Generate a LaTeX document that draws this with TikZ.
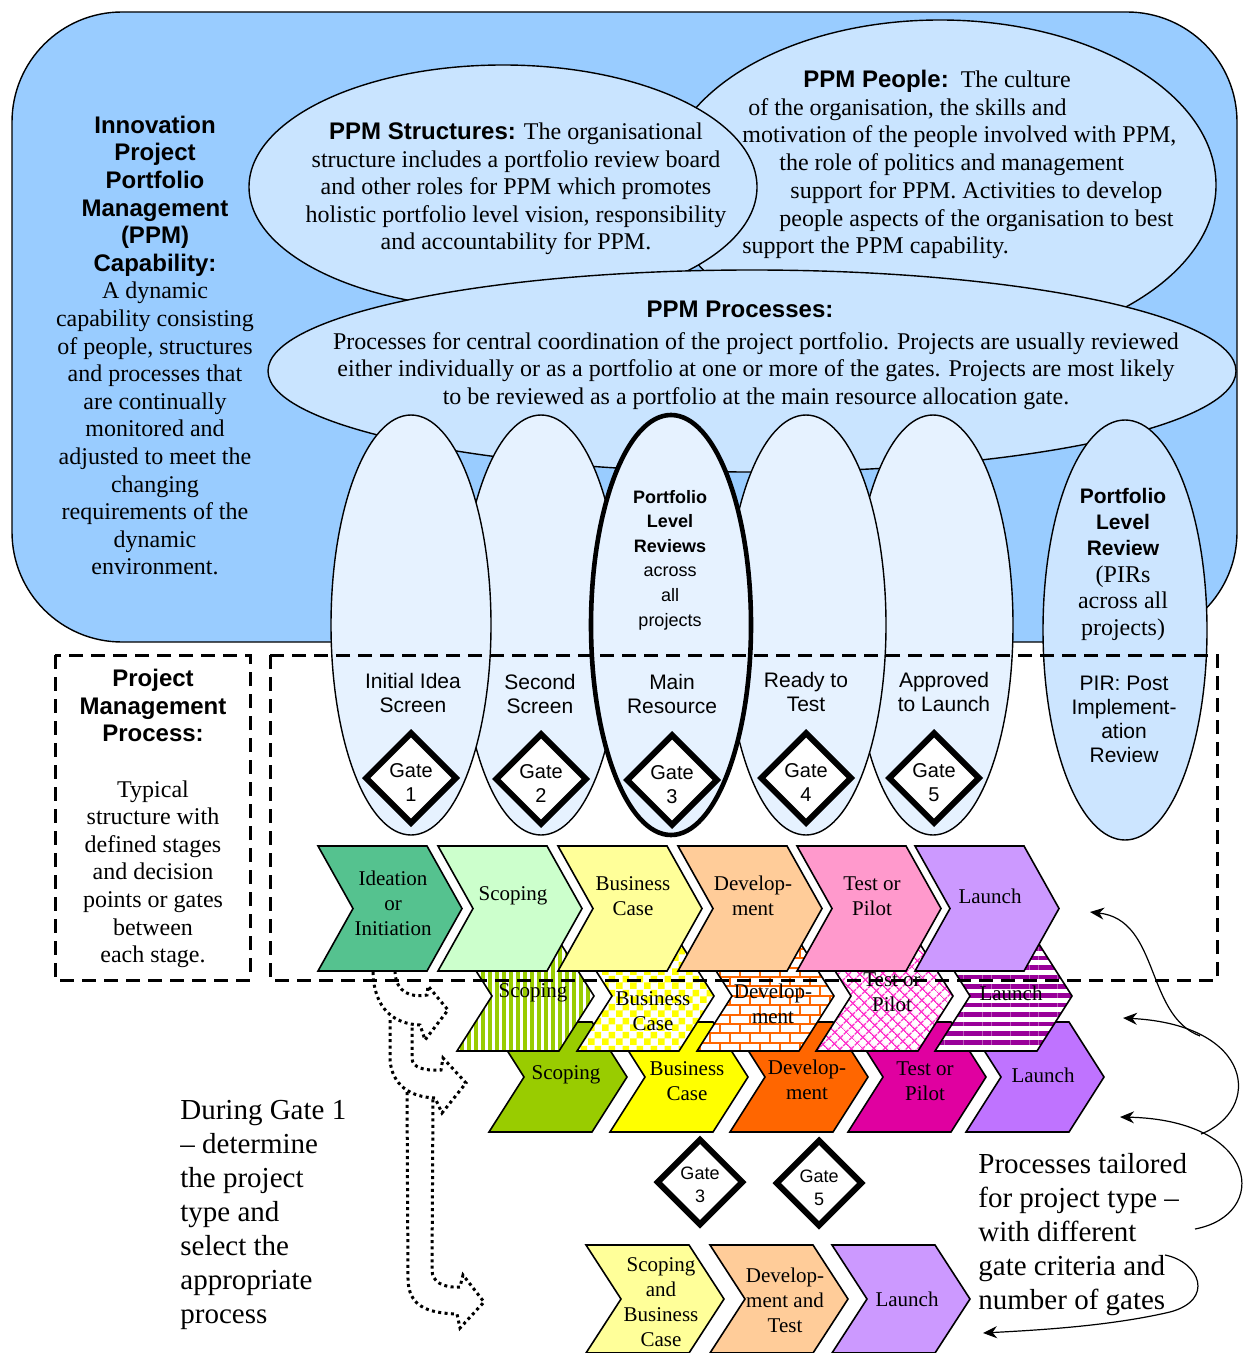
\documentclass[tikz,border=0pt]{standalone}
\usepackage{fontspec}
\setmainfont{Liberation Serif}
\setsansfont{Liberation Sans}
\usetikzlibrary{shapes.geometric,arrows.meta,patterns,patterns.meta}

\definecolor{capblue}{HTML}{99CCFF}
\definecolor{ellblue}{HTML}{C9E4FF}
\definecolor{gateblue}{HTML}{E6F2FF}
\definecolor{pirblue}{HTML}{CCE5FF}
\definecolor{ideagreen}{HTML}{55C28F}
\definecolor{scopelite}{HTML}{CCFFCC}
\definecolor{buslite}{HTML}{FFFF99}
\definecolor{devlite}{HTML}{FFCC99}
\definecolor{testlite}{HTML}{FF99CC}
\definecolor{launchlite}{HTML}{CC99FF}
\definecolor{scopebright}{HTML}{99CC00}
\definecolor{busbright}{HTML}{FFFF00}
\definecolor{devbright}{HTML}{FF6600}
\definecolor{testbright}{HTML}{E000A0}
\definecolor{launchbright}{HTML}{BF73FF}
\definecolor{stripepurple}{HTML}{990099}
\definecolor{weavepink}{HTML}{FF33CC}

% checks and bricks a bit larger than the stock ones
\pgfdeclarepatternformonly{bigchecks}{\pgfpointorigin}{\pgfqpoint{7pt}{7pt}}{\pgfqpoint{7pt}{7pt}}{%
  \pgfpathrectangle{\pgfpointorigin}{\pgfqpoint{3.5pt}{3.5pt}}%
  \pgfpathrectangle{\pgfqpoint{3.5pt}{3.5pt}}{\pgfqpoint{3.5pt}{3.5pt}}%
  \pgfusepath{fill}}
\pgfdeclarepatternformonly{wallbricks}{\pgfqpoint{-0.5pt}{-0.5pt}}{\pgfqpoint{10.5pt}{9.9pt}}{\pgfqpoint{10pt}{9.4pt}}{%
  \pgfsetlinewidth{1pt}%
  \pgfpathmoveto{\pgfqpoint{0pt}{0pt}}\pgfpathlineto{\pgfqpoint{10pt}{0pt}}%
  \pgfpathmoveto{\pgfqpoint{0pt}{4.7pt}}\pgfpathlineto{\pgfqpoint{10pt}{4.7pt}}%
  \pgfpathmoveto{\pgfqpoint{0pt}{0pt}}\pgfpathlineto{\pgfqpoint{0pt}{4.7pt}}%
  \pgfpathmoveto{\pgfqpoint{5pt}{4.7pt}}\pgfpathlineto{\pgfqpoint{5pt}{9.4pt}}%
  \pgfusepath{stroke}}

% left x, centre y, width, half height, options
\newcommand{\chevron}[5]{%
  \path[#5] (#1,{#2-#4}) -- ({#1+#3-35},{#2-#4}) -- ({#1+#3},#2) -- ({#1+#3-35},{#2+#4}) -- (#1,{#2+#4}) -- ({#1+35},#2) -- cycle;}
\newcommand{\sfhead}[1]{{\sffamily\bfseries #1}}
\newcommand{\sfsmall}[1]{{\sffamily\bfseries\fontsize{10.5}{13.2}\selectfont #1}}

\begin{document}
\begin{tikzpicture}[x=0.5pt, y=-0.5pt,
    bodytxt/.style={align=center, inner sep=0pt, font=\fontsize{12}{13.8}\selectfont},
    sanstxt/.style={align=center, inner sep=0pt, font=\sffamily\fontsize{10.5}{12}\selectfont},
    chevtxt/.style={align=center, inner sep=0pt, font=\fontsize{10.5}{12.5}\selectfont},
    bigtxt/.style={align=left, inner sep=0pt, anchor=west, font=\fontsize{14.5}{17}\selectfont},
    bigell/.style={ellipse, draw, line width=0.7pt, fill=ellblue, inner sep=0pt},
    gateell/.style={ellipse, draw, line width=0.7pt, fill=gateblue, inner sep=0pt, minimum width=80pt, minimum height=210pt},
    gatebox/.style={diamond, draw, line width=3pt, fill=white, inner sep=0pt, minimum width=46pt, minimum height=46pt},
    gatetxt/.style={align=center, inner sep=0pt, font=\sffamily\fontsize{10}{12}\selectfont},
    chevline/.style={draw, line width=0.8pt},
    scopestripes/.style={preaction={fill=white}, pattern={Lines[angle=90,distance=3.5pt,line width=1.7pt]}, pattern color=scopebright},
    buschecks/.style={preaction={fill=white}, pattern=bigchecks, pattern color=busbright},
    devwall/.style={preaction={fill=white}, pattern=wallbricks, pattern color=devbright},
    testweave/.style={preaction={fill=white}, pattern={Hatch[angle=45,distance=4pt,line width=0.8pt]}, pattern color=weavepink},
    launchstripes/.style={preaction={fill=white}, pattern={Lines[angle=0,distance=4.7pt,line width=2.3pt]}, pattern color=stripepurple},
    dashbox/.style={line width=1.5pt, dash pattern=on 7pt off 4pt},
    dotarrow/.style={line width=1.5pt, dash pattern=on 1.5pt off 1.7pt},
    tailarrow/.style={line width=0.6pt, -{Stealth[length=7pt,width=6pt]}}
  ]
  \useasboundingbox (0,0) rectangle (1245,1353);

  % PPM capability
  \draw [fill=capblue, line width=0.7pt, rounded corners=55pt] (12,12) rectangle (1237,642);
  \node [bodytxt] (captxt) at (155,345.5) {\sfhead{Innovation}\\\sfhead{Project}\\\sfhead{Portfolio}\\\sfhead{Management}\\\sfhead{(PPM)}\\\sfhead{Capability:}\\A dynamic\\capability consisting\\of people, structures\\and processes that\\are continually\\monitored and\\adjusted to meet the\\changing\\requirements of the\\dynamic\\environment.};

  \node [bigell, minimum width=276pt, minimum height=165pt] (peopell) at (940,185) {};
  \node [bigell, minimum width=254pt, minimum height=122pt] (strucell) at (503,187) {};
  \node [bigell, minimum width=484pt, minimum height=101pt] (procell) at (752,371) {};

  \foreach \x/\y/\t [count=\i] in {803/81.5/{\sfhead{PPM People:}\ \ The culture},
      748/109.5/{of the organisation, the skills and},
      742/136.5/{motivation of the people involved with PPM,},
      779/164.5/{the role of politics and management},
      790/192.5/{support for PPM. Activities to develop},
      779/220.5/{people aspects of the organisation to best},
      742/247.5/{support the PPM capability.}}
    \node [bodytxt, anchor=west] (peop\i) at (\x,\y) {\t};
  \node [bodytxt] (structxt) at (516,189) {\sfhead{PPM Structures:} The organisational\\structure includes a portfolio review board\\and other roles for PPM which promotes\\holistic portfolio level vision, responsibility\\and accountability for PPM.};
  \node [bodytxt] (proctitle) at (740,309) {\sfhead{PPM Processes:}};
  \node [bodytxt] (proctxt) at (756,371) {Processes for central coordination of the project portfolio. Projects are usually reviewed\\either individually or as a portfolio at one or more of the gates. Projects are most likely\\to be reviewed as a portfolio at the main resource allocation gate.};

  % gate ellipses, middle one on top
  \node [gateell] (ge2) at (541,625) {};
  \node [gateell] (ge5) at (933,625) {};
  \node [gateell] (ge1) at (411,625) {};
  \node [gateell] (ge4) at (806,625) {};
  \node [gateell, line width=2.3pt] (ge3) at (671,625) {};
  \node [gateell, fill=pirblue, minimum width=82pt] (ge6) at (1125,630) {};

  \node [align=center, inner sep=0pt, font=\sffamily\fontsize{9}{12.3}\selectfont] (plrtxt) at (670,560) {\textbf{Portfolio}\\\textbf{Level}\\\textbf{Reviews}\\across\\all\\projects};
  \node [align=center, inner sep=0pt, font=\fontsize{12}{13.2}\selectfont] (pirtxt) at (1123,564) {\sfsmall{Portfolio}\\\sfsmall{Level}\\\sfsmall{Review}\\(PIRs\\across all\\projects)};

  \node [sanstxt] (gl1) at (413,693) {Initial Idea\\Screen};
  \node [sanstxt] (gl2) at (540,694) {Second\\Screen};
  \node [sanstxt] (gl3) at (672,694) {Main\\Resource};
  \node [sanstxt] (gl4) at (806,692) {Ready to\\Test};
  \node [sanstxt] (gl5) at (944,692) {Approved\\to Launch};
  \node [sanstxt] (gl6) at (1124,719.5) {PIR: Post\\Implement-\\ation\\Review};

  \foreach \x/\y [count=\i] in {411/778,541/779,672/780,806/778,934/778}
  {
    \node [gatebox] (gd\i) at (\x,\y) {};
    \node [gatetxt] (gt\i) at ([yshift=-2.5pt]gd\i.center) {Gate\\\i};
  }

  % stage chevrons, back row first
  \foreach \l/\col/\ly/\lbl [count=\i] in {489/scopebright/1075/Scoping, 610/busbright/1081/{Business\\Case},
      730/devbright/1080/{Develop-\\ment}, 848/testbright/1081/{Test or\\Pilot}, 966/launchbright/1075/Launch}
  {
    \chevron{\l}{1077}{138}{55}{chevline, fill=\col}
    \node [chevtxt] (rc\i) at ({\l+77},\ly) {\lbl};
  }

  \chevron{457}{996}{137}{55}{chevline, scopestripes}
  \chevron{577}{996}{137}{55}{chevline, buschecks}
  \chevron{697}{996}{137}{55}{chevline, devwall}
  \chevron{816}{996}{137}{55}{chevline, testweave}
  \chevron{935}{996}{137}{55}{chevline, launchstripes}
  \node [chevtxt] (rb1) at (533,993) {Scoping};
  \node [chevtxt] (rb2) at (653,1011) {Business\\Case};
  \node [chevtxt] (rb3) at (773,1004) {Develop-\\ment};
  \node [chevtxt] (rb4) at (892,992) {Test or\\Pilot};
  \node [chevtxt] (rb5) at (1011,993) {Launch};

  \foreach \l/\col/\ly/\lbl [count=\i] in {318/ideagreen/903/{Ideation\\or\\Initiation}, 438/scopelite/896/Scoping,
      558/buslite/896/{Business\\Case}, 678/devlite/896/{Develop-\\ment}, 797/testlite/896/{Test or\\Pilot}, 915/launchlite/896/Launch}
  {
    \chevron{\l}{908.5}{144}{62.5}{chevline, fill=\col}
    \node [chevtxt] (ra\i) at ({\l+75},\ly) {\lbl};
  }

  \foreach \l/\col/\ly/\lbl [count=\i] in {586/buslite/1302/{Scoping\\and\\Business\\Case},
      710/devlite/1300/{Develop-\\ment and\\Test}, 832/launchlite/1299/Launch}
  {
    \chevron{\l}{1299}{138}{54}{chevline, fill=\col}
    \node [chevtxt] (rd\i) at ({\l+75},\ly) {\lbl};
  }

  \node [gatebox, minimum width=43.5pt, minimum height=43.5pt] (gd3b) at (700,1182) {};
  \node [gatetxt, font=\sffamily\fontsize{9}{11.5}\selectfont] (gt3b) at ([yshift=-1.5pt]gd3b.center) {Gate\\3};
  \node [gatebox, minimum width=43.5pt, minimum height=43.5pt] (gd5b) at (819,1183) {};
  \node [gatetxt, font=\sffamily\fontsize{9}{11.5}\selectfont] (gt5b) at ([yshift=-2.5pt]gd5b.center) {Gate\\5};

  % project management process
  \draw [dashbox] (55,655) rectangle (250,980);
  \draw [dashbox] (270,655) rectangle (1217,980);
  \node [bodytxt] (pmtxt) at (153,818.5) {\sfhead{Project}\\\sfhead{Management}\\\sfhead{Process:}\\[13.8pt]Typical\\structure with\\defined stages\\and decision\\points or gates\\between\\each stage.};

  % choosing the process after gate 1
  \draw [dotarrow] (373,972) .. controls (374,1010) and (395,1024) .. (420,1025) -- (425,1040) -- (448,1010) -- (428,986) -- (427,995) .. controls (410,998) and (396,992) .. (395,972);
  \draw [dotarrow] (390,1020) -- (390,1060) .. controls (392,1085) and (410,1097) .. (435,1098) -- (442,1113) -- (466,1083) -- (443,1058) -- (441,1070) .. controls (425,1071) and (412,1068) .. (412,1058) -- (412,1025);
  \draw [dotarrow] (407,1092) -- (408,1280) .. controls (409,1305) and (425,1313) .. (457,1314) -- (460,1328) -- (484,1302) -- (463,1275) -- (460,1287) .. controls (443,1288) and (432,1282) .. (432,1270) -- (433,1097);

  \node [bigtxt] (gate1txt) at (180,1215) {During Gate 1\\-- determine\\the project\\type and\\select the\\appropriate\\process};
  \node [bigtxt] (tailtxt) at (978,1234.5) {Processes tailored\\for project type --\\with different\\gate criteria and\\number of gates};

  \coordinate (tl1) at (1195,1229);
  \coordinate (tl2) at (1165,1255);
  \coordinate (tb1) at (1201,1134);
  \coordinate (tb2) at (1200,1036);
  \coordinate (tip1) at (1090,912);
  \coordinate (tip2) at (1123,1018);
  \coordinate (tip3) at (1120,1117);
  \coordinate (tip4) at (983,1333);
  \draw [tailarrow] (tl1) .. controls (1270,1215) and (1260,1120) .. (tip3);
  \draw [tailarrow] (tb1) .. controls (1262,1110) and (1255,1025) .. (tip2);
  \draw [tailarrow] (tb2) .. controls (1145,1015) and (1160,920) .. (tip1);
  \draw [tailarrow] (tl2) .. controls (1200,1262) and (1215,1300) .. (1170,1312) .. controls (1110,1326) and (1040,1330) .. (tip4);
\end{tikzpicture}
\end{document}
